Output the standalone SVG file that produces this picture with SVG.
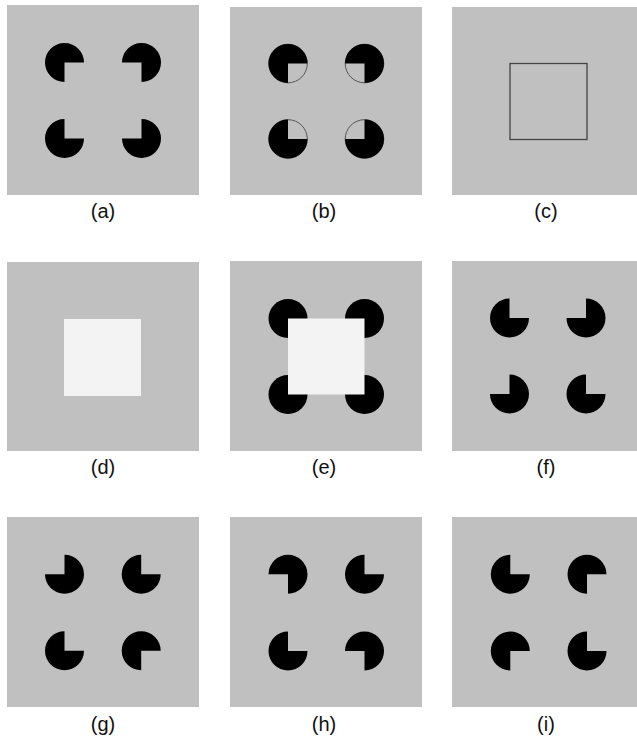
<svg xmlns="http://www.w3.org/2000/svg" width="637" height="737" viewBox="0 0 637 737">
<style>
.bg{fill:#c0c0c0}
.pac{fill:#000}
.lbl{font-family:"Liberation Sans",Arial,sans-serif;font-size:20px;fill:#111;text-anchor:middle}
.ring{fill:none;stroke:#555;stroke-width:1}
.sq{fill:#f3f3f3}
</style>
<defs>
<path id="pSE" d="M0,0 L0,19.5 A19.5,19.5 0 1 1 19.5,0 Z"/>
<path id="pSW" d="M0,0 L0,19.5 A19.5,19.5 0 1 1 19.5,0 Z" transform="rotate(90)"/>
<path id="pNW" d="M0,0 L0,19.5 A19.5,19.5 0 1 1 19.5,0 Z" transform="rotate(180)"/>
<path id="pNE" d="M0,0 L0,19.5 A19.5,19.5 0 1 1 19.5,0 Z" transform="rotate(270)"/>
</defs>

<g id="panel-a">
<rect class="bg" x="7" y="5" width="192" height="190"/>
<use href="#pSE" class="pac" x="64.5" y="62.5"/>
<use href="#pSW" class="pac" x="141.5" y="62.5"/>
<use href="#pNE" class="pac" x="64.5" y="138.5"/>
<use href="#pNW" class="pac" x="141.5" y="138.5"/>
<text class="lbl" x="103" y="218">(a)</text>
</g>

<g id="panel-b">
<rect class="bg" x="230" y="7" width="192" height="188"/>
<circle class="ring" cx="288" cy="63.5" r="19.3"/>
<circle class="ring" cx="364.5" cy="63.5" r="19.3"/>
<circle class="ring" cx="288" cy="139" r="19.3"/>
<circle class="ring" cx="364.5" cy="139" r="19.3"/>
<use href="#pSE" class="pac" x="288" y="63.5"/>
<use href="#pSW" class="pac" x="364.5" y="63.5"/>
<use href="#pNE" class="pac" x="288" y="139"/>
<use href="#pNW" class="pac" x="364.5" y="139"/>
<text class="lbl" x="324" y="218">(b)</text>
</g>

<g id="panel-c">
<rect class="bg" x="452" y="7" width="185" height="188"/>
<rect x="510" y="63.5" width="77" height="76" fill="none" stroke="#444" stroke-width="1.3"/>
<text class="lbl" x="546" y="218">(c)</text>
</g>

<g id="panel-d">
<rect class="bg" x="7" y="262" width="192" height="189"/>
<rect class="sq" x="64" y="319" width="77" height="77"/>
<text class="lbl" x="103" y="474">(d)</text>
</g>

<g id="panel-e">
<rect class="bg" x="230" y="261" width="192" height="190"/>
<circle class="pac" cx="288" cy="318.5" r="19.5"/>
<circle class="pac" cx="364.5" cy="318.5" r="19.5"/>
<circle class="pac" cx="288" cy="394.5" r="19.5"/>
<circle class="pac" cx="364.5" cy="394.5" r="19.5"/>
<rect class="sq" x="288" y="318.5" width="76.5" height="76"/>
<text class="lbl" x="324" y="474">(e)</text>
</g>

<g id="panel-f">
<rect class="bg" x="452" y="261" width="185" height="190"/>
<use href="#pNE" class="pac" x="509.5" y="318"/>
<use href="#pNW" class="pac" x="586" y="318"/>
<use href="#pNW" class="pac" x="509.5" y="394"/>
<use href="#pNE" class="pac" x="586" y="394"/>
<text class="lbl" x="546" y="474">(f)</text>
</g>

<g id="panel-g">
<rect class="bg" x="7" y="517" width="192" height="190"/>
<use href="#pNW" class="pac" x="64.5" y="574.3"/>
<use href="#pNE" class="pac" x="141.2" y="574.3"/>
<use href="#pNE" class="pac" x="64.5" y="650.7"/>
<use href="#pSE" class="pac" x="141.2" y="650.7"/>
<text class="lbl" x="103" y="731">(g)</text>
</g>

<g id="panel-h">
<rect class="bg" x="230" y="517" width="192" height="190"/>
<use href="#pSW" class="pac" x="288" y="574.3"/>
<use href="#pNE" class="pac" x="364.5" y="574.3"/>
<use href="#pNE" class="pac" x="288" y="651"/>
<use href="#pSW" class="pac" x="364.5" y="651"/>
<text class="lbl" x="324" y="731">(h)</text>
</g>

<g id="panel-i">
<rect class="bg" x="452" y="517" width="185" height="190"/>
<use href="#pNE" class="pac" x="510.3" y="574.3"/>
<use href="#pSE" class="pac" x="587" y="574.3"/>
<use href="#pSE" class="pac" x="510.3" y="651"/>
<use href="#pNE" class="pac" x="587" y="651"/>
<text class="lbl" x="546" y="731">(i)</text>
</g>
</svg>
